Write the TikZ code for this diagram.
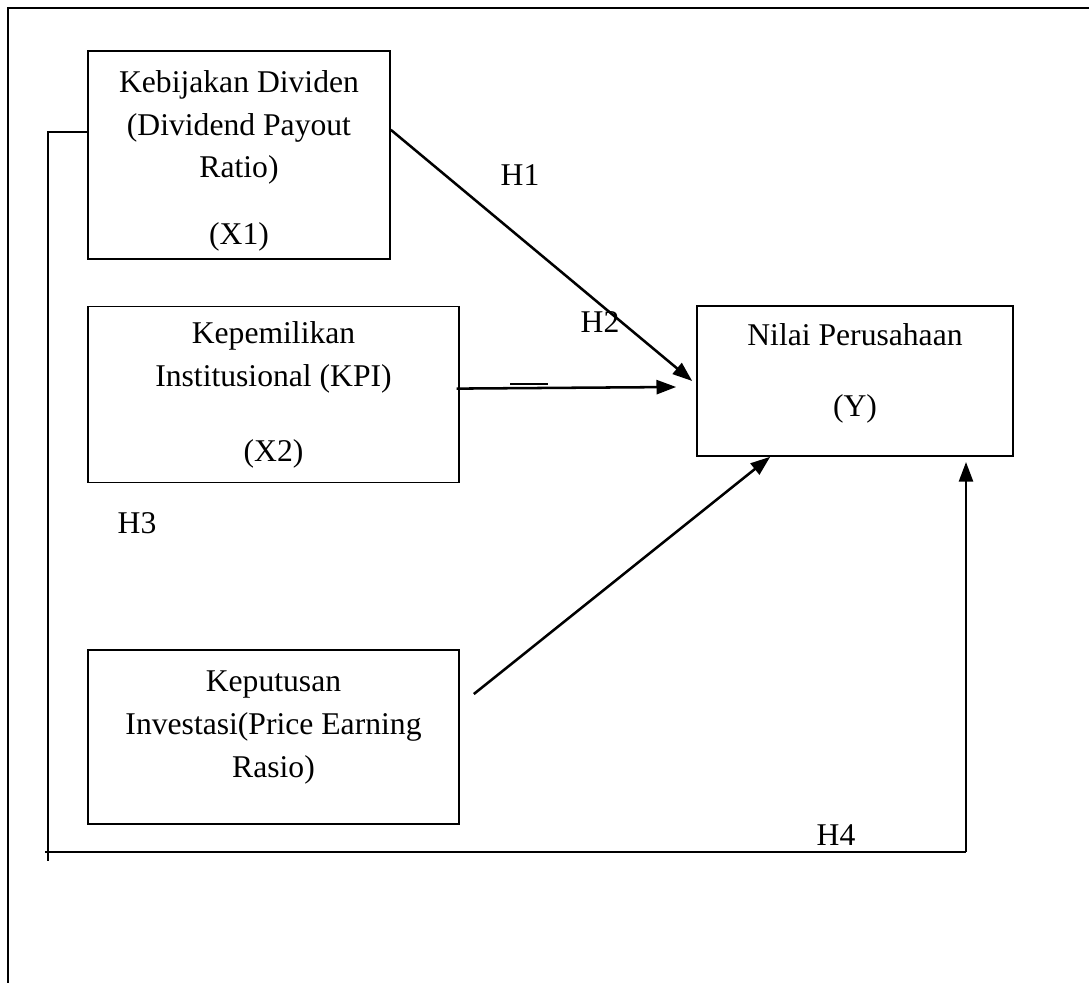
\documentclass[tikz,border=0pt]{standalone}
\usepackage{fontspec}
\setmainfont{Liberation Serif}
\usetikzlibrary{arrows.meta, positioning}
\tikzset{
        node distance=1.15cm, % gap between the stacked boxes
        every node/.style={font=\fontsize{22.5}{30.5}\selectfont}, % text size of the sketch
    }
\tikzstyle{block}=[draw,line width=1.1pt,align=center,inner sep=0pt]
\tikzstyle{hyp}=[inner sep=0pt]
\tikzstyle{link}=[line width=1.8pt,-{Triangle[length=14pt,width=10pt]}]
\tikzstyle{wire}=[line width=1.8pt]
\begin{document}
\begin{tikzpicture}[x=0.025cm,y=-0.025cm]
    \useasboundingbox (0,0) rectangle (1089,983);
    % frame of the page
    \draw[line width=2.1pt] (8,990) -- (8,8) -- (1095,8);

    % variables
    \node[block,minimum width=7.55cm,minimum height=5.2cm] (x1) at (239,155)
        {\rule{0pt}{24pt}Kebijakan Dividen\\(Dividend Payout\\Ratio)\\[0.6cm](X1)};
    \node[block,minimum width=9.275cm,minimum height=4.4cm,below right=1.15cm and 0cm of x1.south west] (x2)
        {Kepemilikan\\Institusional (KPI)\\[0.8cm](X2)};
    \node[block,minimum width=9.275cm,minimum height=4.35cm,below right=4.15cm and 0cm of x2.south west] (x3)
        {Keputusan\\Investasi(Price Earning\\Rasio)\rule[-19pt]{0pt}{1pt}};
    \node[block,minimum width=7.9cm,minimum height=3.75cm] (y) at (855,381)
        {Nilai Perusahaan\\[0.7cm](Y)\rule[-15pt]{0pt}{1pt}};

    % hypotheses
    \node[hyp] (h1) at (520,175) {H1};
    \node[hyp] (h2) at (600,322) {H2};
    \node[hyp] (h3) at (137,523) {H3};
    \node[hyp] (h4) at (836,835) {H4};

    % paths
    \draw[link] ([yshift=0.63cm]x1.east) -- ([xshift=-0.1cm]y.west);
    \draw[link] ([xshift=-0.08cm,yshift=0.15cm]x2.east) -- ([xshift=-0.5cm,yshift=-0.15cm]y.west);
    \draw[line width=1.8pt] (510,384) -- (548,384);
    \draw[link] ([xshift=0.35cm,yshift=1.08cm]x3.east) -- ([xshift=-2.12cm]y.south);

    \coordinate (lt) at (48,132);
    \coordinate (lb) at (48,861);
    \coordinate (rb) at (966,852);
    \coordinate (rt) at (966,462);
    \draw[wire] (x1.west |- lt) -- (lt) -- (lb);
    \draw[wire] (45,852) -- (rb);
    \draw[link] (rb) -- (rt);
\end{tikzpicture}
\end{document}
